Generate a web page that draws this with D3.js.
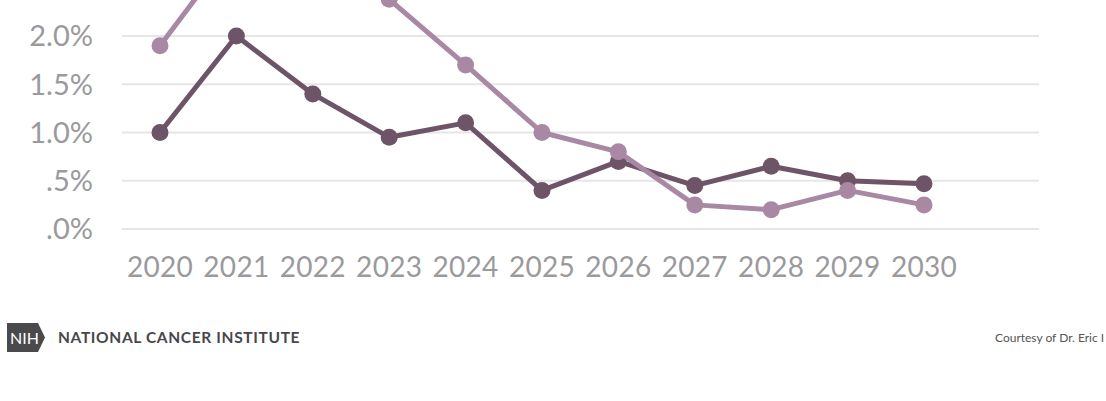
<!DOCTYPE html>
<html><head><meta charset="utf-8">
<script src="https://cdn.jsdelivr.net/npm/d3@7"></script>
<style>body{margin:0;background:#fff}svg{display:block}</style>
</head><body>
<svg id="c" width="1106" height="401"></svg>
<script>
const years = [2020,2021,2022,2023,2024,2025,2026,2027,2028,2029,2030];
const darkSeries = [1.0,2.0,1.4,0.95,1.1,0.4,0.7,0.45,0.65,0.5,0.47];
const lightSeries = [1.9,2.95,2.8,2.38,1.7,1.0,0.8,0.25,0.2,0.4,0.25];
const yTicks = [0,0.5,1.0,1.5,2.0,2.5];
const yTickLabels = [".0%",".5%","1.0%","1.5%","2.0%","2.5%"];

const svg = d3.select("#c");
const x = d3.scalePoint().domain(years).range([160,924]);
const y = d3.scaleLinear().domain([0,2]).range([229,36]);

// gridlines
svg.append("g").selectAll("line").data(yTicks).join("line")
  .attr("x1",122).attr("x2",1039)
  .attr("y1",d=>y(d)).attr("y2",d=>y(d))
  .attr("stroke","#e6e6e6").attr("stroke-width",2);

// y labels
svg.append("g").selectAll("text").data(yTicks).join("text")
  .attr("x",93).attr("y",d=>y(d)).attr("dy","0.36em")
  .attr("text-anchor","end").attr("font-family","Lato").attr("font-size",29)
  .attr("fill","#9a9a9c").text((d,i)=>yTickLabels[i]);

// x labels
svg.append("g").selectAll("text").data(years).join("text")
  .attr("x",d=>x(d)).attr("y",277)
  .attr("text-anchor","middle").attr("font-family","Lato").attr("font-size",28)
  .attr("letter-spacing",0.3)
  .attr("fill","#9a9a9c").text(d=>d);

const line = d3.line().x((d,i)=>x(years[i])).y(d=>y(d));
function series(vals,color){
  const g = svg.append("g");
  g.append("path").datum(vals).attr("d",line).attr("fill","none")
    .attr("stroke",color).attr("stroke-width",5).attr("stroke-linejoin","round");
  g.selectAll("circle").data(vals).join("circle")
    .attr("cx",(d,i)=>x(years[i])).attr("cy",d=>y(d)).attr("r",8.5).attr("fill",color);
}
series(darkSeries,"#6d5467");
series(lightSeries,"#a988a4");

// NIH logo
const logo = svg.append("g");
logo.append("path").attr("d","M7,323 H38 L45,337.5 L38,352 H7 Z").attr("fill","#4a4a4c");
logo.append("path").attr("d","M41,323 L48,337.5 L41,352").attr("fill","none").attr("stroke","#fff").attr("stroke-width",1.5);
logo.append("text").attr("x",10).attr("y",344).attr("font-family","Lato").attr("font-size",16)
  .attr("fill","#fff").text("NIH");
svg.append("text").attr("x",58).attr("y",343).attr("font-family","Lato").attr("font-weight","bold")
  .attr("font-size",15.5).attr("fill","#47474a").attr("letter-spacing",0.65).text("NATIONAL CANCER INSTITUTE");
svg.append("text").attr("x",995).attr("y",342).attr("font-family","Lato")
  .attr("font-size",12).attr("fill","#555").text("Courtesy of Dr. Eric I");
</script>
</body></html>
